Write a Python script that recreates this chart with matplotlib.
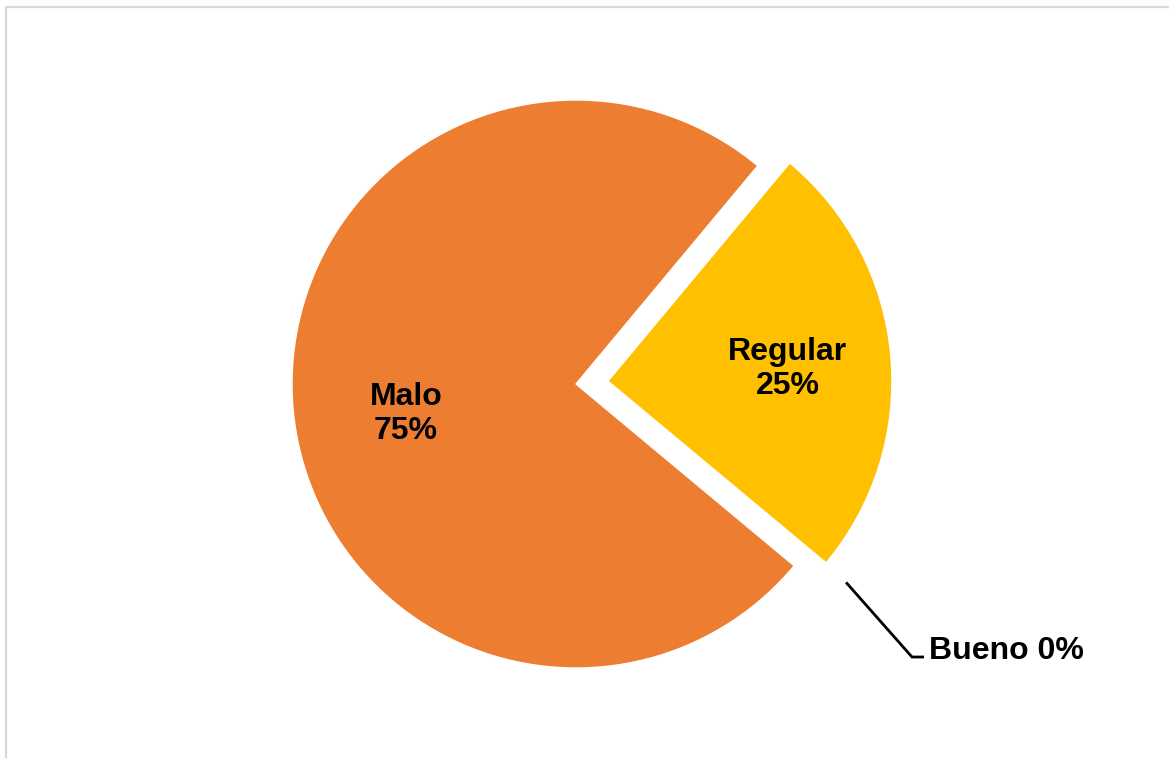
import math
import matplotlib
matplotlib.use("Agg")
import matplotlib.pyplot as plt
from matplotlib.patches import Rectangle

# Survey result shares
categories = ["Regular", "Bueno", "Malo"]
shares = [25, 0, 75]
colors = ["#FFC000", "#5B9BD5", "#ED7D31"]
explode = [0.113, 0.0, 0.0]

W, H = 1169, 758
CX, CY, R = 576, 384, 284  # pie centre and radius in pixels

fig = plt.figure(figsize=(W / 100, H / 100), dpi=100)
ax = fig.add_axes([0, 0, 1, 1])
ax.axis("off")

wedges, _ = ax.pie(
    shares,
    colors=colors,
    explode=explode,
    startangle=50.2,
    counterclock=False,
    radius=1.0,
    center=(0, 0),
    wedgeprops=dict(edgecolor="white", linewidth=1.0),
)
# axis units: one unit = pie radius, origin at the pie centre
ax.set_xlim(-CX / R, (W - CX) / R)
ax.set_ylim(-(H - CY) / R, CY / R)
ax.set_aspect("equal")

font = dict(family=["Liberation Sans", "DejaVu Sans"], fontsize=23,
            fontweight="bold", color="black")


def pct(v):
    return f"{v}%"


# In-slice labels: (radius fraction, angle shift in degrees)
placement = {"Regular": (0.635, -1.4), "Malo": (0.608, 4.8)}
for w, name, val in zip(wedges, categories, shares):
    if name not in placement:
        continue
    rpos, dang = placement[name]
    ang = math.radians(0.5 * (w.theta1 + w.theta2) + dang)
    cx, cy = w.center
    ax.text(cx + rpos * math.cos(ang), cy + rpos * math.sin(ang),
            f"{name}\n{pct(val)}", ha="center", va="center",
            linespacing=1.15, **font)

# Zero-share slice label with leader line
bw = wedges[1]
ang = math.radians(bw.theta1 + 3.5)
x0, y0 = 1.18 * math.cos(ang), 1.18 * math.sin(ang)
x1, y1 = (912 - CX) / R, -(657 - CY) / R
x2 = (924 - CX) / R
ax.plot([x0, x1, x2], [y0, y1, y1], color="black", linewidth=2.0,
        solid_capstyle="butt", solid_joinstyle="miter")
ax.text((929 - CX) / R, y1 - 2 / R, f"{categories[1]} {pct(shares[1])}",
        ha="left", va="baseline", **font)

# Light frame around the chart area
fig.patches.append(Rectangle((6 / W, -0.05), 1.2, (H - 7) / H + 0.05,
                             transform=fig.transFigure, fill=False,
                             edgecolor="#D9D9D9", linewidth=1.6))

fig.savefig("out.png", dpi=100, facecolor="white")
